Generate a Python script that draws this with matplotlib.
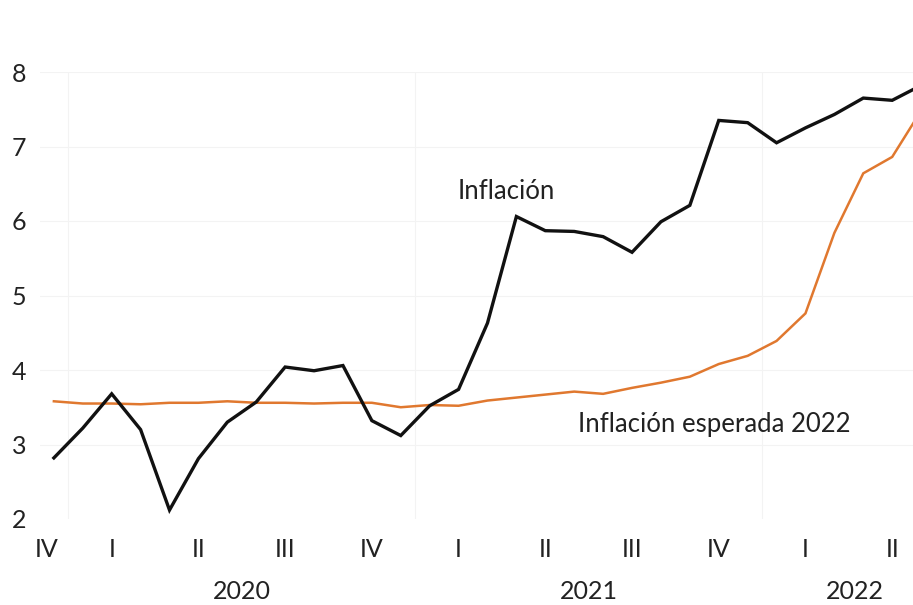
import numpy as np
import matplotlib.pyplot as plt
from matplotlib import transforms

# monthly data, Dec 2019 .. Jun 2022
inflacion = [2.82, 3.22, 3.68, 3.20, 2.12, 2.81, 3.30, 3.57, 4.04, 3.99, 4.06,
             3.32, 3.12, 3.52, 3.74, 4.63, 6.06, 5.87, 5.86, 5.79, 5.58, 5.99,
             6.21, 7.35, 7.32, 7.05, 7.25, 7.43, 7.65, 7.62, 7.82]
esperada = [3.58, 3.55, 3.55, 3.54, 3.56, 3.56, 3.58, 3.56, 3.56, 3.55, 3.56,
            3.56, 3.50, 3.53, 3.52, 3.59, 3.63, 3.67, 3.71, 3.68, 3.76, 3.83,
            3.91, 4.08, 4.19, 4.39, 4.76, 5.84, 6.64, 6.86, 7.48]

quarter_pos = [-0.25, 2, 5, 8, 11, 14, 17, 20, 23, 26, 29]
quarter_labels = ['IV', 'I', 'II', 'III', 'IV', 'I', 'II', 'III', 'IV', 'I', 'II']
year_pos = [6.5, 18.5, 27.7]
year_labels = ['2020', '2021', '2022']
year_breaks = [0.5, 12.5, 24.5]

plt.rcParams['font.family'] = ['Lato', 'DejaVu Sans']

fig = plt.figure(figsize=(9.13, 6.05), dpi=100)
ax = fig.add_axes([40 / 913, 1 - 519 / 605, 1 - 40 / 913, (519 - 72) / 605])

x = np.arange(len(inflacion))
ax.plot(x, esperada, color='#E0782F', lw=1.8, zorder=3, solid_joinstyle='miter')
ax.plot(x, inflacion, color='#111111', lw=2.4, zorder=4, solid_joinstyle='miter')

ax.set_xlim(-0.48, 29.72)
ax.set_ylim(2, 8)

for y in range(3, 9):
    ax.axhline(y, color='#f3f3f3', lw=0.8, zorder=0)
for b in year_breaks:
    ax.axvline(b, color='#f3f3f3', lw=0.8, zorder=0)

for s in ax.spines.values():
    s.set_visible(False)

ax.set_yticks(range(2, 9))
ax.tick_params(axis='y', length=0, pad=10, labelsize=18, labelcolor='#222222')
ax.set_xticks(quarter_pos)
ax.set_xticklabels(quarter_labels)
ax.tick_params(axis='x', length=0, pad=14, labelsize=18, labelcolor='#222222')

trans = transforms.blended_transform_factory(ax.transData, ax.transAxes)
for p, lab in zip(year_pos, year_labels):
    ax.text(p, -0.163, lab, transform=trans, ha='center', va='center',
            fontsize=18, color='#222222')

ax.text(15.65, 6.4, 'Inflación', ha='center', va='center', fontsize=18.5, color='#222222')
ax.text(22.85, 3.27, 'Inflación esperada 2022', ha='center', va='center',
        fontsize=18.5, color='#222222')

fig.savefig('out.png', dpi=100)
